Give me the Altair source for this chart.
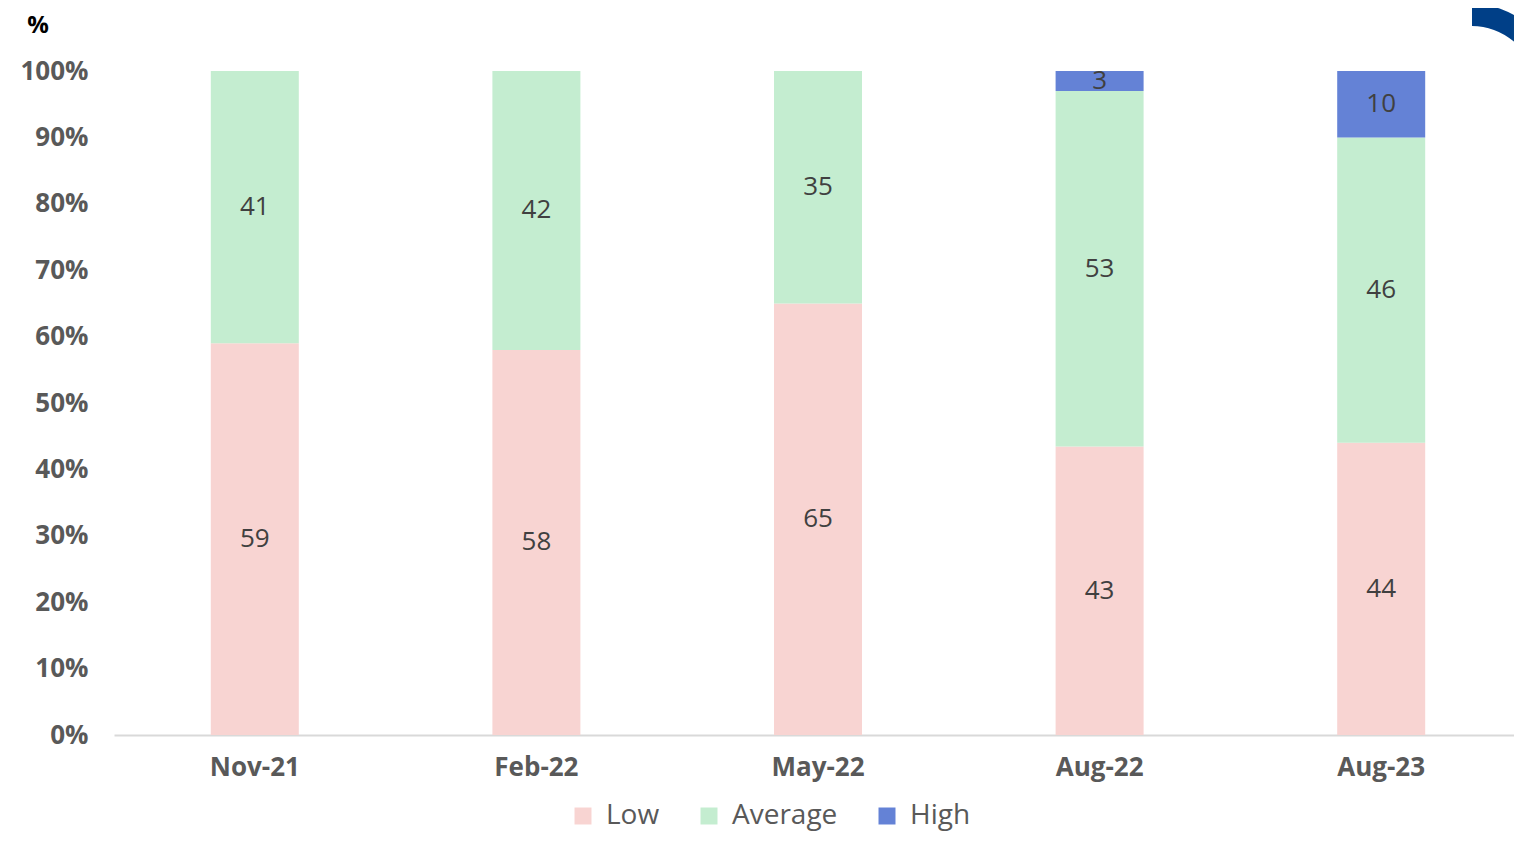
import altair as alt
import pandas as pd

dates = ["Nov-21", "Feb-22", "May-22", "Aug-22", "Aug-23"]
low = [59, 58, 65, 43, 44]
average = [41, 42, 35, 53, 46]
high = [0, 0, 0, 3, 10]
levels = ["Low", "Average", "High"]
colors = ["#F8D4D2", "#C4EDD0", "#6482D6"]
y_title = "%"

rows = []
for i, d in enumerate(dates):
    for j, (lvl, vals) in enumerate(zip(levels, [low, average, high])):
        rows.append({"date": d, "level": lvl, "ord": j, "value": vals[i]})
df = pd.DataFrame(rows)

FONT = "Open Sans"

base = alt.Chart(df).transform_stack(
    stack="value", groupby=["date"], as_=["y0", "y1"], offset="normalize",
    sort=[alt.SortField("ord", "ascending")]
).transform_calculate(mid="(datum.y0 + datum.y1) / 2")

x_scale = alt.Scale(paddingInner=0.6875, paddingOuter=0.34375, range=[0, 1408])

x_enc = alt.X("date:N", sort=dates, scale=x_scale,
              axis=alt.Axis(title=None, labelAngle=0, labelFont=FONT, labelFontSize=26,
                            labelFontWeight="bold", labelColor="#595959", labelPadding=19,
                            ticks=False, domainColor="#D9D9D9", domainWidth=2))

bars = base.mark_bar().encode(
    x=x_enc,
    y=alt.Y("y0:Q", scale=alt.Scale(domain=[0, 1]),
            axis=alt.Axis(title=None, format=".0%", values=[i / 10 for i in range(11)],
                          labelFont=FONT, labelFontSize=26, labelFontWeight="bold",
                          labelColor="#595959", labelPadding=26, ticks=False,
                          domain=False, grid=False)),
    y2="y1:Q",
    color=alt.Color("level:N", sort=levels,
                    scale=alt.Scale(domain=levels, range=colors),
                    legend=alt.Legend(title=None, orient="none", legendX=455, legendY=731,
                                      direction="horizontal", symbolType="square",
                                      symbolSize=289, symbolStrokeWidth=0,
                                      labelFont=FONT, labelFontSize=28,
                                      labelColor="#595959", labelOffset=9,
                                      columnPadding=35)),
    order=alt.Order("ord:Q"),
)

labels = base.transform_filter("datum.value > 0").mark_text(
    font=FONT, fontSize=26, color="#404040"
).encode(
    x=alt.X("date:N", sort=dates),
    y=alt.Y("mid:Q"),
    text=alt.Text("value:Q"),
)

title_mark = alt.Chart(pd.DataFrame({"t": [y_title]})).mark_text(
    font=FONT, fontSize=24, fontWeight="bold", color="#000000"
).encode(x=alt.value(-76), y=alt.value(-45), text="t:N")

deco = alt.Chart(pd.DataFrame({"k": [0]})).mark_arc(
    theta=0, theta2=1.4, radius=86, radius2=64,
    color=alt.Gradient(gradient="linear",
                       stops=[alt.GradientStop(color="#003F87", offset=0),
                              alt.GradientStop(color="#003F87", offset=0.45),
                              alt.GradientStop(color="#3C7B78", offset=1)],
                       x1=0, x2=1, y1=0, y2=0)
).encode(x=alt.value(1358), y=alt.value(19))

chart = alt.layer(bars, labels, title_mark, deco).properties(
    width=1400, height=664,
    autosize=alt.AutoSizeParams(type="none"),
    padding={"left": 106, "top": 63, "right": 0, "bottom": 100},
).configure_view(stroke=None)

chart.save("out.html", embed_options={"renderer": "svg", "actions": False})
